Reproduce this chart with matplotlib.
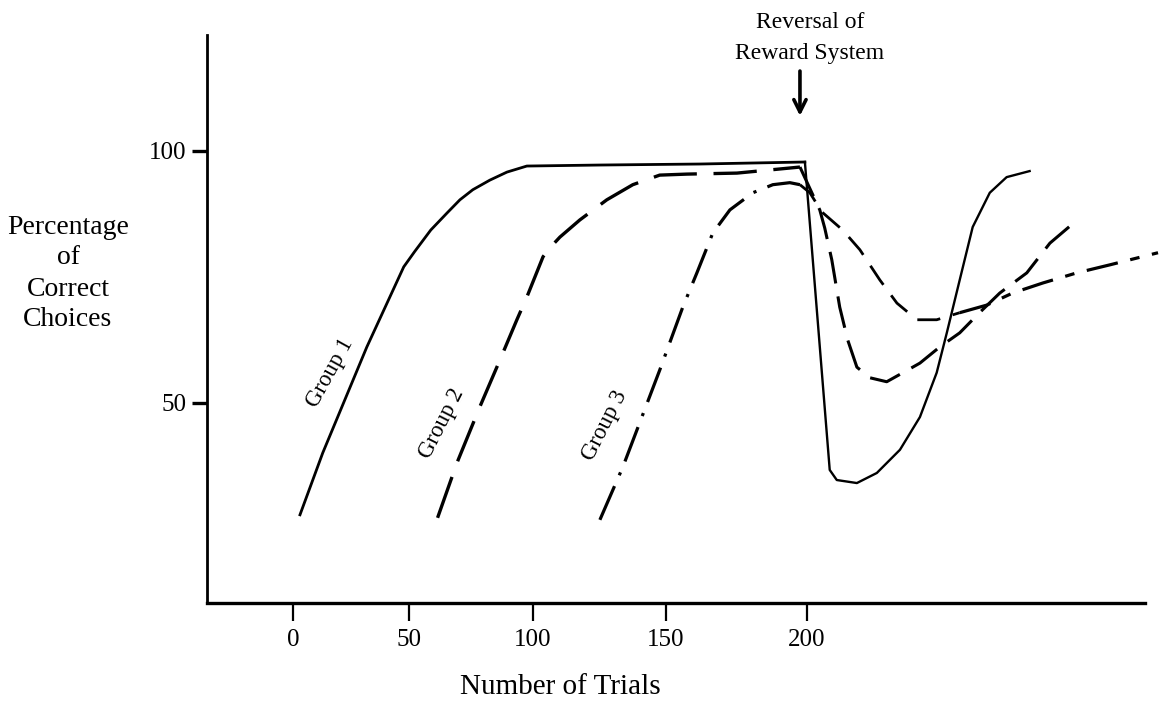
import numpy as np
import matplotlib
matplotlib.use("Agg")
import matplotlib.pyplot as plt

# values (trials, % correct)
g1_x = [3.1, 13.2, 32.3, 47.9, 52.4, 59.1, 65.8, 71.0, 76.2, 83.0, 89.8, 97.6,
        125.6, 162.4, 199.3, 207.8, 210.2, 217.0, 223.7, 231.4, 238.0, 243.5,
        246.8, 251.0, 255.2, 260.7, 266.1, 273.4]
g1_y = [27.8, 40.1, 61.1, 77.0, 80.0, 84.3, 87.7, 90.3, 92.3, 94.2, 95.8, 97.0,
        97.2, 97.4, 97.8, 36.7, 34.7, 34.1, 36.1, 40.7, 47.2, 56.0,
        63.9, 74.4, 84.9, 91.7, 94.8, 96.0]

g2_x = [61.9, 69.8, 79.0, 87.0, 93.7, 97.6, 103.9, 106.6, 110.4, 118.0, 128.2,
        137.9, 147.8, 157.7, 175.6, 197.6, 204.4, 206.1, 208.5, 211.2, 213.9,
        217.0, 221.3, 227.0, 232.4, 238.0, 244.5, 251.0, 257.4, 263.9, 272.5,
        279.8, 287.6]
g2_y = [27.2, 38.1, 49.2, 58.5, 66.5, 71.0, 79.0, 80.8, 82.9, 86.3, 90.3,
        93.3, 95.2, 95.4, 95.6, 96.8, 88.3, 84.7, 78.4, 69.0, 62.5,
        57.1, 55.0, 54.2, 56.0, 57.9, 61.1, 63.9, 67.9, 71.8, 75.8,
        81.7, 85.9]

g3_x = [125.6, 134.2, 139.4, 147.8, 156.2, 161.3, 167.0, 173.1, 181.2, 188.2,
        194.1, 197.6, 201.0, 205.1, 212.2, 218.0, 224.7, 230.4, 237.0, 243.5,
        251.0, 259.7, 268.0, 277.6, 288.2, 298.5, 313.2]
g3_y = [26.8, 37.3, 44.6, 56.5, 69.0, 75.8, 83.7, 88.3, 91.7, 93.3,
        93.7, 93.3, 91.7, 87.9, 84.3, 80.4, 74.4, 69.8, 66.5, 66.5,
        67.9, 69.4, 71.8, 73.8, 75.8, 77.4, 79.8]

x_ticks = [0, 50, 100, 150, 200]
y_ticks = [50, 100]
ylabel_lines = ["Percentage", "of", "Correct", "Choices"]
title_lines = ["Reversal of", "Reward System"]

# the hand drawn trial axis is stretched a little towards the right
K = 0.000762


def fwd(x):
    x = np.asarray(x, dtype=float)
    return x + K * x * x


def inv(y):
    y = np.asarray(y, dtype=float)
    return (np.sqrt(np.maximum(1 + 4 * K * y, 0)) - 1) / (2 * K)


plt.rcParams["font.family"] = ["Liberation Serif", "DejaVu Serif"]

W, H = 1167, 717
fig = plt.figure(figsize=(W / 100, H / 100), dpi=100)
ax = fig.add_axes([207 / W, 1 - 603 / H, (1160 - 207) / W, (603 - 35) / H])
ax.set_xscale("function", functions=(fwd, inv))
ax.set_xlim(-39.8, 313.8)
ax.set_ylim(10.3, 123.0)

ink = "black"
# Group 1 - solid
ax.plot(g1_x[:15], g1_y[:15], color=ink, lw=2.0, clip_on=False)
ax.plot(g1_x[14:], g1_y[14:], color=ink, lw=1.7, clip_on=False)
# Group 2 - long dashes
ax.plot(g2_x[:16], g2_y[:16], color=ink, lw=2.4, dashes=(13, 5), clip_on=False)
ax.plot(g2_x[15:], g2_y[15:], color=ink, lw=2.2, dashes=(10.5, 4.3), clip_on=False)
# Group 3 - dash dot, short dashes after reversal, dash dot again at the end
ax.plot(g3_x[:12], g3_y[:12], color=ink, lw=2.3, dashes=(11.5, 3.7, 1, 3.7),
        clip_on=False)
ax.plot(g3_x[11:21], g3_y[11:21], color=ink, lw=2.0, dashes=(8.3, 4.7), clip_on=False)
ax.plot(g3_x[20:], g3_y[20:], color=ink, lw=2.3, dashes=(10, 4, 3, 4), clip_on=False)

for sp in ["top", "right"]:
    ax.spines[sp].set_visible(False)
ax.spines["left"].set_linewidth(2.0)
ax.spines["bottom"].set_linewidth(2.4)
ax.spines["bottom"].set_bounds(-39.8, 309.2)

ax.set_xticks(x_ticks)
ax.set_yticks(y_ticks)
ax.tick_params(axis="x", direction="out", length=13, width=1.6, pad=6,
               labelsize=18)
ax.tick_params(axis="y", direction="out", length=11, width=2.4, pad=4,
               labelsize=18)

# group labels along the rising lines
ax.text(16.3, 56.0, "Group 1", rotation=61, ha="center", va="center", fontsize=16.5)
ax.text(63.8, 46.0, "Group 2", rotation=63, ha="center", va="center", fontsize=16.5)
ax.text(127.5, 45.6, "Group 3", rotation=63, ha="center", va="center", fontsize=16.5)

# reversal marker
ax.annotate("", xy=(197.6, 106.4), xytext=(197.6, 116.4),
            arrowprops=dict(arrowstyle="->", color=ink, lw=2.6, mutation_scale=22),
            annotation_clip=False)
for line, py in zip(title_lines, [22, 53]):
    fig.text(810 / W, 1 - py / H, line, ha="center", va="center", fontsize=17)

for line, py in zip(ylabel_lines, [228, 258, 289, 319]):
    fig.text(68 / W, 1 - py / H, line, ha="center", va="center", fontsize=20)

fig.text(560 / W, 1 - 687 / H, "Number of Trials", ha="center",
         va="center", fontsize=21)

fig.savefig("out.png", dpi=100)
